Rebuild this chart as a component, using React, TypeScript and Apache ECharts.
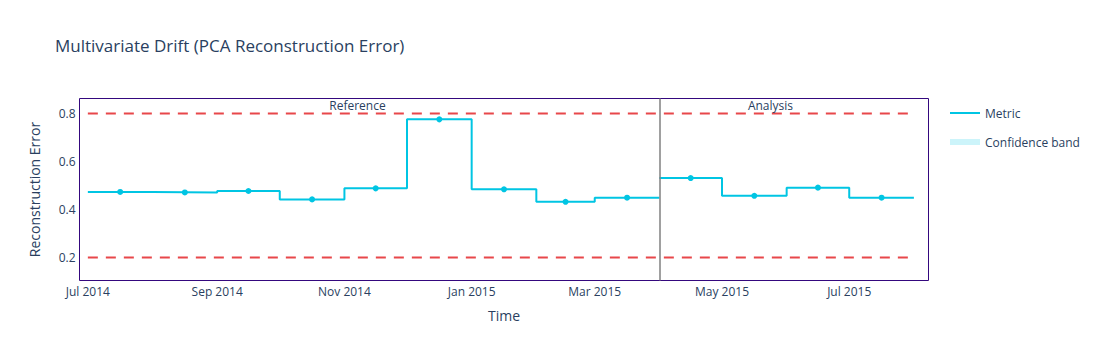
import React, { useEffect, useRef } from "react";
import * as echarts from "echarts";

// ---- data ----
const refStarts = [
  "2014-07-01", "2014-08-01", "2014-09-01", "2014-10-01", "2014-11-01",
  "2014-12-01", "2015-01-01", "2015-02-01", "2015-03-01",
];
const refEnd = "2015-04-01";
const refValues = [0.473, 0.471, 0.477, 0.442, 0.488, 0.776, 0.484, 0.432, 0.449];
const refUpper = [0.479, 0.477, 0.483, 0.448, 0.494, 0.782, 0.49, 0.438, 0.455];
const refLower = [0.467, 0.465, 0.471, 0.436, 0.482, 0.77, 0.478, 0.426, 0.443];

const anaStarts = ["2015-04-01", "2015-05-01", "2015-06-01", "2015-07-01"];
const anaEnd = "2015-08-01";
const anaValues = [0.531, 0.457, 0.491, 0.449];
const anaUpper = [0.537, 0.463, 0.497, 0.455];
const anaLower = [0.525, 0.451, 0.485, 0.443];

const upperThreshold = 0.8;
const lowerThreshold = 0.2;

const xTickDates = [
  "2014-07-01", "2014-09-01", "2014-11-01", "2015-01-01",
  "2015-03-01", "2015-05-01", "2015-07-01",
];
const xTickLabels = [
  "Jul 2014", "Sep 2014", "Nov 2014", "Jan 2015", "Mar 2015", "May 2015", "Jul 2015",
];
const yTickValues = [0.2, 0.4, 0.6, 0.8];
const xRange = ["2014-06-27", "2015-08-08"];
const yRange = [0.1035, 0.863];

// ---- helpers ----
const ts = (s: string) => new Date(s + "T00:00:00").getTime();

function stepData(starts: string[], end: string, vals: number[]) {
  const pts: [number, number][] = starts.map((d, i) => [ts(d), vals[i]]);
  pts.push([ts(end), vals[vals.length - 1]]);
  return pts;
}
function midData(starts: string[], end: string, vals: number[]) {
  return starts.map((d, i) => {
    const a = ts(d);
    const b = ts(i + 1 < starts.length ? starts[i + 1] : end);
    return [(a + b) / 2, vals[i]];
  });
}
function diff(u: number[], l: number[]) {
  return u.map((v, i) => +(v - l[i]).toFixed(6));
}

const LINE = "#00c5e3";
const BAND = "rgba(0,200,230,0.2)";
const TXT = "#2a3f5f";
const FONT = "'Open Sans', sans-serif";

export default function App() {
  const ref = useRef<HTMLDivElement>(null);

  useEffect(() => {
    if (!ref.current) return;
    const chart = echarts.init(ref.current, undefined, { renderer: "svg" });

    const refMid = midData(refStarts, refEnd, refValues);
    const anaMid = midData(anaStarts, anaEnd, anaValues);
    const refLabelX = (ts(refStarts[0]) + refMid[refMid.length - 1][0]) / 2;
    const anaLabelX = (ts(anaStarts[0]) + anaMid[anaMid.length - 1][0]) / 2;
    const xStart = ts(refStarts[0]);
    const xEnd = ts(anaEnd);
    const tickTs = xTickDates.map(ts);

    const bandSeries = (
      id: string,
      starts: string[],
      end: string,
      upper: number[],
      lower: number[]
    ) => [
      {
        name: "band-base-" + id,
        type: "line",
        stack: "band-" + id,
        step: "end",
        symbol: "none",
        silent: true,
        lineStyle: { opacity: 0 },
        data: stepData(starts, end, lower),
        z: 1,
      },
      {
        name: "Confidence band",
        type: "line",
        stack: "band-" + id,
        step: "end",
        symbol: "none",
        silent: true,
        lineStyle: { opacity: 0 },
        itemStyle: { color: BAND },
        areaStyle: { color: BAND, opacity: 1 },
        data: stepData(starts, end, diff(upper, lower)),
        z: 1,
      },
    ];

    const thresholdSeries = (v: number) => ({
      name: "threshold-" + v,
      type: "line",
      symbol: "none",
      silent: true,
      lineStyle: { color: "#e8474a", width: 2, type: [10, 8] },
      data: [
        [xStart, v],
        [xEnd, v],
      ],
      z: 2,
    });

    chart.setOption({
      animation: false,
      textStyle: { fontFamily: FONT },
      title: {
        text: "Multivariate Drift (PCA Reconstruction Error)",
        left: 47,
        top: 29,
        padding: 0,
        textStyle: { fontFamily: FONT, fontSize: 17, fontWeight: "normal", color: TXT },
      },
      legend: [
        {
          data: [{ name: "Metric", itemStyle: { color: LINE } }],
          left: 942,
          top: 99,
          padding: 0,
          icon: "rect",
          itemWidth: 30,
          itemHeight: 2,
          itemGap: 5,
          textStyle: { fontFamily: FONT, fontSize: 12, color: TXT },
        },
        {
          data: [{ name: "Confidence band", itemStyle: { color: BAND } }],
          left: 942,
          top: 128,
          padding: 0,
          icon: "rect",
          itemWidth: 30,
          itemHeight: 6,
          itemGap: 5,
          textStyle: { fontFamily: FONT, fontSize: 12, color: TXT },
        },
      ],
      grid: {
        left: 71.5,
        top: 90.5,
        width: 849,
        height: 182,
        show: true,
        borderColor: "#34087e",
        borderWidth: 1,
        containLabel: false,
      },
      xAxis: {
        type: "value",
        min: ts(xRange[0]),
        max: ts(xRange[1]),
        name: "Time",
        nameLocation: "middle",
        nameGap: 28,
        nameTextStyle: { fontFamily: FONT, fontSize: 14, color: TXT },
        axisLine: { show: false },
        axisTick: { show: false },
        splitLine: { show: false },
        axisLabel: {
          customValues: tickTs,
          formatter: (v: number) => {
            let best = 0;
            for (let i = 1; i < tickTs.length; i++) {
              if (Math.abs(tickTs[i] - v) < Math.abs(tickTs[best] - v)) best = i;
            }
            return xTickLabels[best];
          },
          fontFamily: FONT,
          fontSize: 12,
          color: TXT,
          margin: 5,
          hideOverlap: false,
        },
      },
      yAxis: {
        type: "value",
        min: yRange[0],
        max: yRange[1],
        name: "Reconstruction Error",
        nameLocation: "middle",
        nameGap: 38,
        nameTextStyle: { fontFamily: FONT, fontSize: 14, color: TXT },
        axisLine: { show: false },
        axisTick: { show: false },
        splitLine: { show: false },
        axisLabel: {
          customValues: yTickValues,
          formatter: (v: number) => v.toFixed(1),
          fontFamily: FONT,
          fontSize: 12,
          color: TXT,
          margin: 4,
        },
      },
      series: [
        ...bandSeries("ref", refStarts, refEnd, refUpper, refLower),
        ...bandSeries("ana", anaStarts, anaEnd, anaUpper, anaLower),
        thresholdSeries(upperThreshold),
        thresholdSeries(lowerThreshold),
        {
          name: "Metric",
          type: "line",
          step: "end",
          symbol: "none",
          lineStyle: { color: LINE, width: 2 },
          itemStyle: { color: LINE },
          data: stepData(refStarts, refEnd, refValues),
          z: 3,
        },
        {
          name: "Metric",
          type: "line",
          step: "end",
          symbol: "none",
          lineStyle: { color: LINE, width: 2 },
          itemStyle: { color: LINE },
          data: stepData(anaStarts, anaEnd, anaValues),
          z: 3,
        },
        {
          name: "Metric markers",
          type: "scatter",
          symbol: "circle",
          symbolSize: 6,
          itemStyle: { color: LINE, opacity: 1 },
          data: [...refMid, ...anaMid],
          z: 4,
        },
        {
          name: "period-split",
          type: "line",
          data: [],
          silent: true,
          markLine: {
            symbol: "none",
            silent: true,
            label: { show: false },
            lineStyle: { color: "#808080", width: 1.5, type: "solid" },
            data: [{ xAxis: ts(anaStarts[0]) }],
          },
          z: 5,
        },
        {
          name: "period-labels",
          type: "scatter",
          symbolSize: 0,
          silent: true,
          itemStyle: { opacity: 1 },
          label: {
            show: true,
            position: "bottom",
            distance: 1,
            formatter: "{b}",
            fontFamily: FONT,
            fontSize: 12,
            color: TXT,
            opacity: 1,
          },
          data: [
            { name: "Reference", value: [refLabelX, yRange[1]] },
            { name: "Analysis", value: [anaLabelX, yRange[1]] },
          ],
          z: 6,
        },
      ],
    });

    return () => chart.dispose();
  }, []);

  return <div ref={ref} style={{ width: 1086, height: 344 }} />;
}
